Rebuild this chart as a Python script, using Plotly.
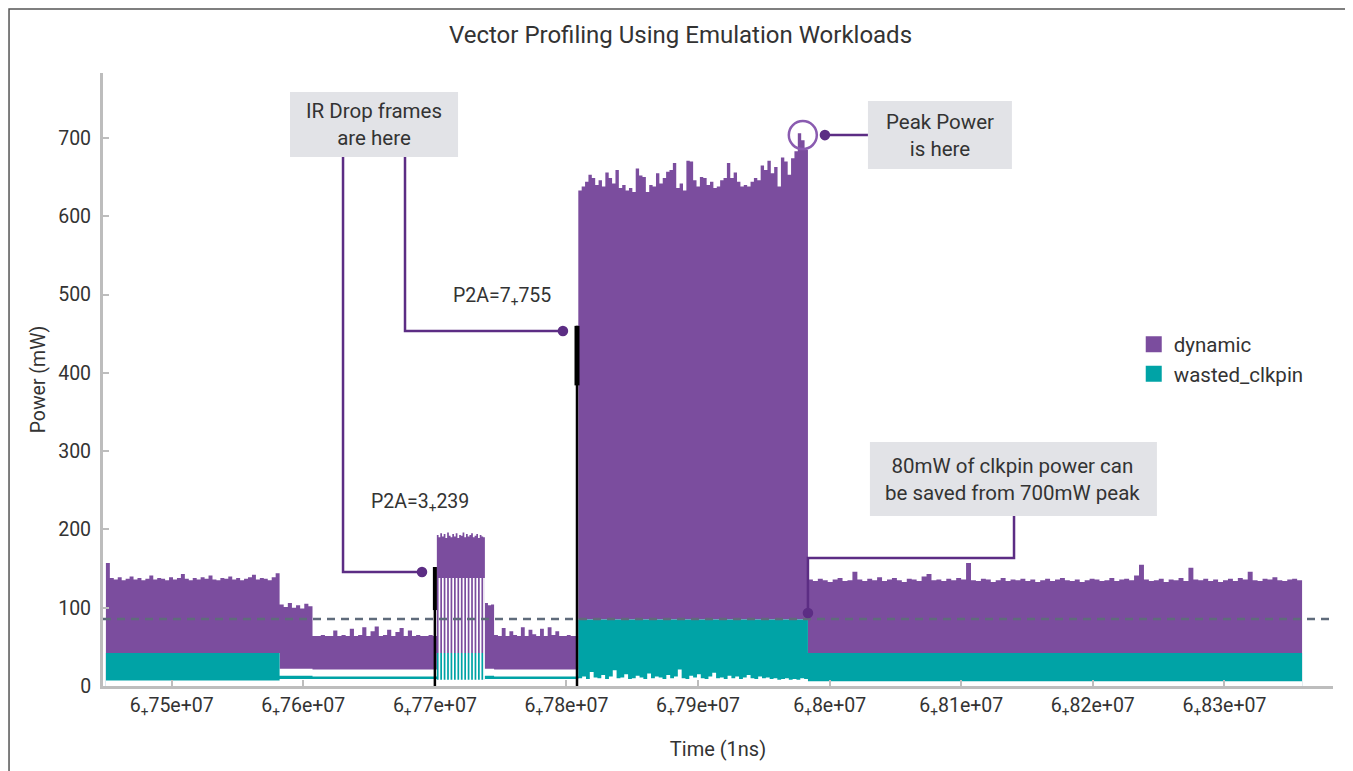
import numpy as np
import plotly.graph_objects as go

# ---- data (mW) ----
# segment edges on the time axis (1ns)
seg_edges = [6.7450e7, 6.7582e7, 6.7607e7, 6.77015e7, 6.7738e7, 6.7745e7, 6.7809e7, 6.79835e7, 6.8359e7]

# top of the purple (dynamic) envelope, per segment
A_top = [157, 138, 136, 139, 135, 137, 140, 136, 138, 135, 137, 141, 136, 138, 137, 135, 139, 136, 138, 143,
         137, 135, 138, 136, 139, 137, 141, 136, 135, 138, 137, 140, 136, 138, 135, 137, 139, 142, 136, 138,
         137, 135, 139, 144]
B_top = [104, 101, 106, 100, 103, 99, 105, 102]
C_top = [64, 64, 65, 64, 64, 71, 64, 65, 64, 73, 64, 65, 75, 64, 70, 76, 64, 65, 72, 64,
         69, 74, 64, 71, 64, 65, 64, 64, 65, 64]
D_top = [193, 190, 195, 191, 194, 189, 196, 192, 190, 194, 191, 195, 189, 193, 192, 196, 190, 194, 191, 193,
         195, 190, 192, 194, 189, 193, 191, 190]
D2_top = [106, 103, 104]
E_top = [65, 64, 74, 64, 70, 65, 64, 75, 64, 72, 66, 64, 73, 64, 75, 65, 70, 64, 64, 65, 64, 64]
F_top = [633, 638, 644, 653, 649, 640, 646, 638, 656, 649, 642, 659, 636, 640, 633, 636, 631, 661, 652, 650,
         631, 640, 638, 655, 642, 649, 657, 659, 668, 636, 642, 633, 671, 670, 646, 638, 650, 649, 640, 644,
         636, 638, 646, 649, 668, 649, 656, 644, 638, 640, 638, 644, 649, 646, 665, 659, 671, 655, 663, 638,
         675, 670, 653, 674, 683, 706, 697, 685]
G_top = [136, 134, 137, 135, 133, 136, 138, 134, 135, 146, 136, 134, 137, 135, 139, 134, 136, 138, 135, 133,
         137, 136, 134, 140, 143, 135, 136, 134, 137, 135, 138, 136, 157, 135, 134, 137, 136, 133, 135, 138,
         134, 136, 135, 137, 134, 136, 133, 135, 137, 134, 136, 138, 135, 134, 136, 133, 135, 137, 136, 134,
         135, 138, 134, 136, 137, 135, 141, 155, 136, 134, 135, 137, 133, 136, 135, 138, 134, 151, 136, 135,
         137, 134, 136, 133, 135, 137, 134, 138, 136, 146, 135, 134, 137, 136, 139, 135, 134, 136, 137, 135]

# lower edge of the purple band (white gap below it in the low segments)
D_purple_floor = [42, 138, 42, 138, 42, 138, 42, 138, 42, 138, 42, 138, 42, 138,
                  42, 138, 42, 138, 42, 138, 42, 138, 42, 138, 42, 138, 42, 138]
# top of the teal (wasted_clkpin) band
D_teal = [42, 0, 42, 0, 42, 0, 42, 0, 42, 0, 42, 0, 42, 0,
          42, 0, 42, 0, 42, 0, 42, 0, 42, 0, 42, 0, 42, 0]
purple_floor = {"A": [42], "B": [22], "C": [21], "D": D_purple_floor, "D2": [22], "E": [21], "F": [85], "G": [42]}
teal_top = {"A": [42], "B": [13], "C": [12], "D": D_teal, "D2": [13], "E": [12], "F": [85], "G": [42]}
# white floor under the teal band
F_floor = [10, 12, 9, 18, 11, 10, 14, 9, 12, 20, 10, 11, 15, 9, 10, 13, 11, 9, 16, 10,
           12, 11, 9, 14, 10, 12, 21, 10, 9, 13, 11, 15, 10, 9, 12, 17, 10, 11, 9, 13,
           10, 12, 9, 11, 14, 10, 9, 12, 10, 11, 9, 10, 8, 9, 10, 8, 9, 8, 10, 9]
white_floor = {"A": [7], "B": [9], "C": [9], "D": [8], "D2": [9], "E": [9], "F": F_floor, "G": [6]}
tops = {"A": A_top, "B": B_top, "C": C_top, "D": D_top, "D2": D2_top, "E": E_top, "F": F_top, "G": G_top}
seg_names = ["A", "B", "C", "D", "D2", "E", "F", "G"]

clkpin_line = 85.5
x_ticks = [6.75e7, 6.76e7, 6.77e7, 6.78e7, 6.79e7, 6.8e7, 6.81e7, 6.82e7, 6.83e7]
x_ticktext = ["6<sub>+</sub>75e+07", "6<sub>+</sub>76e+07", "6<sub>+</sub>77e+07", "6<sub>+</sub>78e+07",
              "6<sub>+</sub>79e+07", "6<sub>+</sub>8e+07", "6<sub>+</sub>81e+07", "6<sub>+</sub>82e+07",
              "6<sub>+</sub>83e+07"]

PURPLE = "#7B4D9E"
TEAL = "#00A3A6"
LINK = "#5C2D84"
BOX = "#E2E3E7"
TXT = "#333333"
FONT = "Roboto"


def step_xy(layer):
    xs, ys = [], []
    for i, name in enumerate(seg_names):
        vals = layer[name]
        edges = np.linspace(seg_edges[i], seg_edges[i + 1], len(vals) + 1)
        xs.extend(edges[:-1])
        ys.extend(vals)
    xs.append(seg_edges[-1])
    ys.append(ys[-1])
    return xs, ys


fig = go.Figure()

for layer, color in [(tops, PURPLE), (purple_floor, "white"), (teal_top, TEAL), (white_floor, "white")]:
    xs, ys = step_xy(layer)
    fig.add_trace(go.Scatter(
        x=xs, y=ys, mode="lines", line=dict(width=0, shape="hv"),
        fill="tozeroy", fillcolor=color, showlegend=False, hoverinfo="skip"
    ))

# legend entries
for name, color in [("dynamic", PURPLE), ("wasted_clkpin", TEAL)]:
    fig.add_trace(go.Scatter(
        x=[None], y=[None], mode="markers", name=name,
        marker=dict(symbol="square", size=17, color=color)
    ))

# dashed clkpin level
fig.add_shape(type="line", xref="paper", x0=0, x1=1, yref="y", y0=clkpin_line, y1=clkpin_line,
              line=dict(color="#5F6B7B", width=2.5, dash="8px,6px"), layer="above")

# P2A markers
fig.add_shape(type="line", x0=6.7700e7, x1=6.7700e7, y0=0, y1=152, line=dict(color="black", width=2.5))
fig.add_shape(type="line", x0=6.7700e7, x1=6.7700e7, y0=97, y1=152, line=dict(color="black", width=4))
fig.add_shape(type="line", x0=6.7808e7, x1=6.7808e7, y0=0, y1=460, line=dict(color="black", width=2.5))
fig.add_shape(type="line", x0=6.7808e7, x1=6.7808e7, y0=384, y1=460, line=dict(color="black", width=5))

# connector lines
links = [
    [(6.76302e7, 675.6), (6.76302e7, 145.6), (6.76902e7, 145.6)],
    [(6.76773e7, 675.6), (6.76773e7, 453.4), (6.77973e7, 453.4)],
    [(6.80291e7, 703.7), (6.79964e7, 703.7)],
    [(6.81401e7, 217.1), (6.81401e7, 163.5), (6.79835e7, 163.5), (6.79835e7, 93.2)],
]
for pts in links:
    path = "M " + " L ".join(f"{x},{y}" for x, y in pts)
    fig.add_shape(type="path", path=path, line=dict(color=LINK, width=2.5), layer="above")
    x, y = pts[-1]
    fig.add_shape(type="circle", x0=x - 4000, x1=x + 4000, y0=y - 6.8, y1=y + 6.8,
                  fillcolor=LINK, line=dict(width=0), layer="above")

# peak circle
fig.add_shape(type="circle", x0=6.79796e7 - 10640, x1=6.79796e7 + 10640, y0=703.7 - 17.9, y1=703.7 + 17.9,
              line=dict(color="#8A5BB0", width=2.5), layer="above")

# call-out boxes
boxes = [
    (6.75899e7, 6.77176e7, 675.6, 758.6, 6.76537e7, 717.8, "IR Drop frames<br>are here"),
    (6.80291e7, 6.81385e7, 660.3, 747.1, 6.80838e7, 703.7, "Peak Power<br>is here"),
    (6.80306e7, 6.82487e7, 217.1, 311.6, 6.81393e7, 264.4, "80mW of clkpin power can<br>be saved from 700mW peak"),
]
for x0, x1, y0, y1, tx, ty, text in boxes:
    fig.add_shape(type="rect", x0=x0, x1=x1, y0=y0, y1=y1, fillcolor=BOX, line=dict(width=0), layer="above")
    fig.add_annotation(x=tx, y=ty, text=text, showarrow=False, font=dict(family=FONT, size=20.5, color=TXT))

fig.add_annotation(x=6.76887e7, y=235, text="P2A=3<sub>+</sub>239", showarrow=False,
                   font=dict(family=FONT, size=19.5, color=TXT))
fig.add_annotation(x=6.77511e7, y=498, text="P2A=7<sub>+</sub>755", showarrow=False,
                   font=dict(family=FONT, size=19.5, color=TXT))

# outer frame
fig.add_shape(type="rect", xref="paper", yref="paper", x0=-0.0764, x1=1.0106, y0=-0.2, y1=1.1044,
              line=dict(color="#555555", width=1.5), layer="below")

fig.update_layout(
    width=1345, height=763,
    margin=dict(l=95, r=20, t=65, b=85),
    paper_bgcolor="white", plot_bgcolor="white",
    font=dict(family=FONT, size=19.5, color=TXT),
    title=dict(text="Vector Profiling Using Emulation Workloads", x=0.5, xanchor="center",
               y=1 - 27 / 763, yanchor="middle", font=dict(size=24, color=TXT)),
    legend=dict(x=0.838, y=0.59, xanchor="left", yanchor="top", font=dict(size=20.5, color=TXT),
                bgcolor="rgba(0,0,0,0)", tracegroupgap=0),
    showlegend=True,
)
fig.update_xaxes(
    range=[6.74478e7, 6.83825e7], tickvals=x_ticks, ticktext=x_ticktext,
    showgrid=False, zeroline=False, showline=True, linecolor="#BDBDBD", linewidth=3,
    ticks="inside", ticklen=6, tickcolor="#BDBDBD", tickwidth=1.5,
    title=dict(text="Time (1ns)", font=dict(size=20, color=TXT), standoff=24),
)
fig.update_yaxes(
    range=[0, 783], tickvals=[0, 100, 200, 300, 400, 500, 600, 700],
    showgrid=False, zeroline=False, showline=True, linecolor="#BDBDBD", linewidth=3,
    ticks="inside", ticklen=6, tickcolor="#BDBDBD", tickwidth=1.5, ticklabelstandoff=5,
    title=dict(text="Power (mW)", font=dict(size=19.5, color=TXT), standoff=8),
)

fig.write_html("out.html")
